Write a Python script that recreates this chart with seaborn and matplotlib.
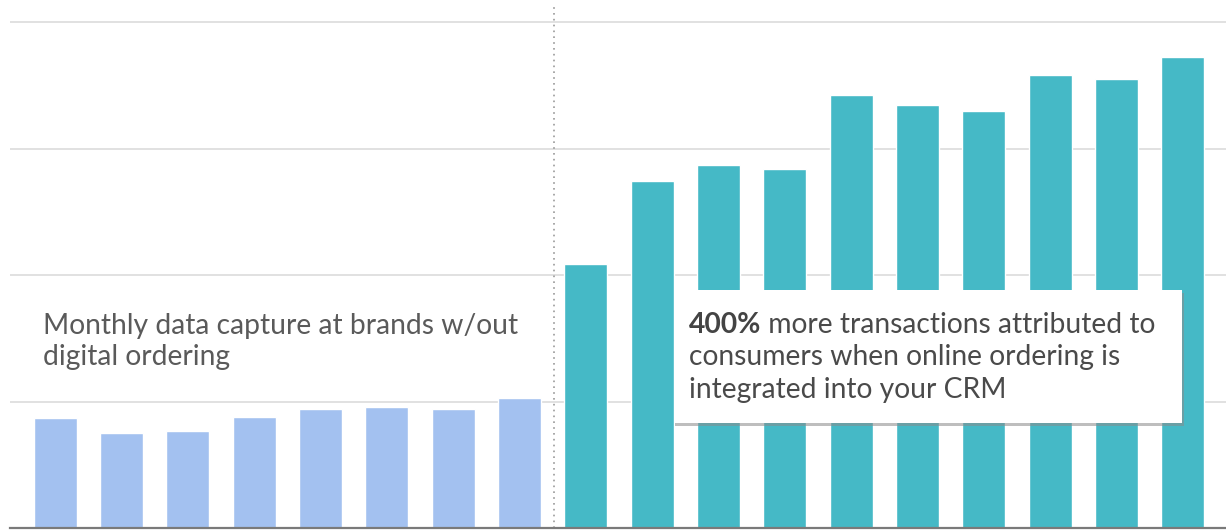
import matplotlib
matplotlib.use("Agg")
import matplotlib.pyplot as plt
import matplotlib.patches as mpatches
import seaborn as sns
import pandas as pd

# monthly data capture (gridline = 1 unit)
before_values = [0.87, 0.75, 0.77, 0.88, 0.94, 0.96, 0.94, 1.03]
after_values = [2.09, 2.74, 2.87, 2.84, 3.42, 3.34, 3.30, 3.58, 3.55, 3.72]
groups = ["Without digital ordering"] * len(before_values) + ["With digital ordering"] * len(after_values)
months = [f"M{i + 1}" for i in range(len(before_values) + len(after_values))]

left_lines = ["Monthly data capture at brands w/out", "digital ordering"]
box_bold = "400%"
box_lines = [" more transactions attributed to",
             "consumers when online ordering is",
             "integrated into your CRM"]

df = pd.DataFrame({"month": months, "value": before_values + after_values, "group": groups})
palette = {"Without digital ordering": "#a3c1f0", "With digital ordering": "#45b9c6"}

sns.set_style("white")
plt.rcParams["font.family"] = ["Lato", "DejaVu Sans"]

W, H = 1226, 531
FS = 20.3
fig = plt.figure(figsize=(W / 100, H / 100), dpi=100)
ax = fig.add_axes([10 / W, 3 / H, 1 - 10 / W, 528 / H])

sns.barplot(data=df, x="month", y="value", hue="group", palette=palette, saturation=1,
            dodge=False, width=0.65, legend=False, ax=ax, zorder=2)

ax.set_xlim(-0.68, 17.65)
ax.set_ylim(0, 4.174)
for y in [1, 2, 3, 4]:
    ax.axhline(y, color="#dcdcdc", lw=1.2, zorder=0)
ax.axvline(7.52, ymin=0, ymax=0.987, color="#999999", lw=1.2, ls=(0, (1, 2.5)), zorder=1)

for s in ["top", "right", "left"]:
    ax.spines[s].set_visible(False)
ax.spines["bottom"].set_color("#7a7a7a")
ax.spines["bottom"].set_linewidth(1.6)
ax.set_xticks([])
ax.set_yticks([])
ax.set_xlabel("")
ax.set_ylabel("")

# left note, one line at a time
for i, line in enumerate(left_lines):
    fig.text(43 / W, 1 - (334 + i * 31) / H, line, fontsize=FS, color="#5a5a5a",
             va="baseline", ha="left")

# callout box with a soft shadow
bx0, bx1, by0, by1 = 675, 1182, 290, 423
shadow = mpatches.Rectangle((bx0 / W, 1 - (by1 + 3) / H), (bx1 - bx0 + 2) / W, (by1 - by0) / H,
                            transform=fig.transFigure, facecolor="#8a8a8a", alpha=0.55,
                            edgecolor="none", zorder=5)
fig.add_artist(shadow)
box = mpatches.Rectangle((bx0 / W, 1 - by1 / H), (bx1 - bx0) / W, (by1 - by0) / H,
                         transform=fig.transFigure, facecolor="white", edgecolor="none", zorder=6)
fig.add_artist(box)

tx, ty, step = 689, 333, 32.5
t_bold = fig.text(tx / W, 1 - ty / H, box_bold, fontsize=FS, fontweight="bold",
                  color="#444444", va="baseline", ha="left", zorder=7)
fig.canvas.draw()
bb = t_bold.get_window_extent(renderer=fig.canvas.get_renderer())
fig.text(bb.x1 / W, 1 - ty / H, box_lines[0], fontsize=FS, color="#4a4a4a",
         va="baseline", ha="left", zorder=7)
for i, line in enumerate(box_lines[1:], start=1):
    fig.text(tx / W, 1 - (ty + i * step) / H, line, fontsize=FS, color="#4a4a4a",
             va="baseline", ha="left", zorder=7)

fig.savefig("out.png", dpi=100)
